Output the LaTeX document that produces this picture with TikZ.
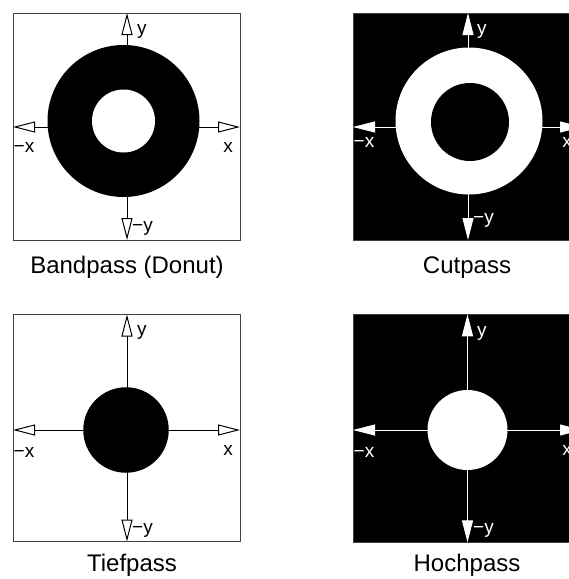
\documentclass[tikz,border=0pt]{standalone}
\usepackage{fontspec}
\setmainfont{Liberation Sans}
\usetikzlibrary{arrows.meta}
\begin{document}
\begin{tikzpicture}[x=1pt,y=-1pt,
  frame/.style={draw=black!75, line width=1pt, inner sep=0pt, outer sep=0pt, minimum width=227pt, minimum height=227pt},
  darkframe/.style={frame, fill=black},
  axisB/.style={line width=1pt, draw=black, -{Triangle[open,length=22pt,width=11pt]}},
  axisW/.style={line width=1pt, draw=white, -{Triangle[length=22pt,width=11pt]}},
  disc/.style={circle, inner sep=0pt, outer sep=0pt},
  lab/.style={font=\fontsize{19}{19}\selectfont, inner sep=0pt},
  captext/.style={font=\fontsize{24}{24}\selectfont, inner sep=0pt, anchor=base}]
\useasboundingbox (0,0) rectangle (569,579);
\clip (0,0) rectangle (569,579);

% ---------- Bandpass (Donut) ----------
\node[frame] (b1) at (126.5,126.5) {};
\coordinate (c1) at (127,127);
\draw[axisB] (c1) -- (c1 |- b1.north);
\draw[axisB] (c1) -- (c1 |- b1.south);
\draw[axisB] (c1) -- (b1.west |- c1);
\draw[axisB] (c1) -- (b1.east |- c1);
\node[disc, fill=black, minimum size=152pt] (d1o) at (123.5,121) {};
\node[disc, fill=white, minimum size=63pt] (d1i) at (123.5,121) {};
\node[lab, anchor=west] (y1) at (137,31) {y};
\node[lab] (x1) at (228,147) {x};
\node[lab, anchor=west] (mx1) at (13.5,147) {\char"2212x};
\node[lab, anchor=west] (my1) at (132,228) {\char"2212y};
\node[captext] (t1) at (127,273) {Bandpass (Donut)};

% ---------- Cutpass ----------
\node[darkframe, minimum width=229pt] (b2) at (467.5,126.5) {};
\coordinate (c2) at (468,127);
\draw[axisW] (c2) -- (c2 |- b2.north);
\draw[axisW] (c2) -- (c2 |- b2.south);
\draw[axisW] (c2) -- (b2.west |- c2);
\draw[axisW] (c2) -- (b2.east |- c2);
\node[disc, fill=white, minimum size=147pt] (d2o) at (469,121) {};
\node[disc, fill=black, minimum size=78pt] (d2i) at (470,122) {};
\node[lab, text=white, anchor=west] (y2) at (477,31) {y};
\node[lab, text=white] (x2) at (567,142) {x};
\node[lab, text=white, anchor=west] (mx2) at (353.5,142) {\char"2212x};
\node[lab, text=white, anchor=west] (my2) at (473,220) {\char"2212y};
\node[captext] (t2) at (467,273) {Cutpass};

% ---------- Tiefpass ----------
\node[frame] (b3) at (126.5,428) {};
\coordinate (c3) at (127,430);
\draw[axisB] (c3) -- (c3 |- b3.north);
\draw[axisB] (c3) -- (c3 |- b3.south);
\draw[axisB] (c3) -- (b3.west |- c3);
\draw[axisB] (c3) -- (b3.east |- c3);
\node[disc, fill=black, minimum size=85.5pt] (d3) at (126,430) {};
\node[lab, anchor=west] (y3) at (137,332) {y};
\node[lab] (x3) at (228,450) {x};
\node[lab, anchor=west] (mx3) at (13.5,452) {\char"2212x};
\node[lab, anchor=west] (my3) at (132,530) {\char"2212y};
\node[captext] (t3) at (132,571) {Tiefpass};

% ---------- Hochpass ----------
\node[darkframe, minimum width=229pt, minimum height=228pt] (b4) at (467.5,428.3) {};
\coordinate (c4) at (467.5,430);
\draw[axisW] (c4) -- (c4 |- b4.north);
\draw[axisW] (c4) -- (c4 |- b4.south);
\draw[axisW] (c4) -- (b4.west |- c4);
\draw[axisW] (c4) -- (b4.east |- c4);
\node[disc, fill=white, minimum size=80pt] (d4) at (467.5,430) {};
\node[lab, text=white, anchor=west] (y4) at (477,333) {y};
\node[lab, text=white] (x4) at (567,450) {x};
\node[lab, text=white, anchor=west] (mx4) at (353.5,452) {\char"2212x};
\node[lab, text=white, anchor=west] (my4) at (473,530) {\char"2212y};
\node[captext] (t4) at (467,571) {Hochpass};
\end{tikzpicture}
\end{document}
